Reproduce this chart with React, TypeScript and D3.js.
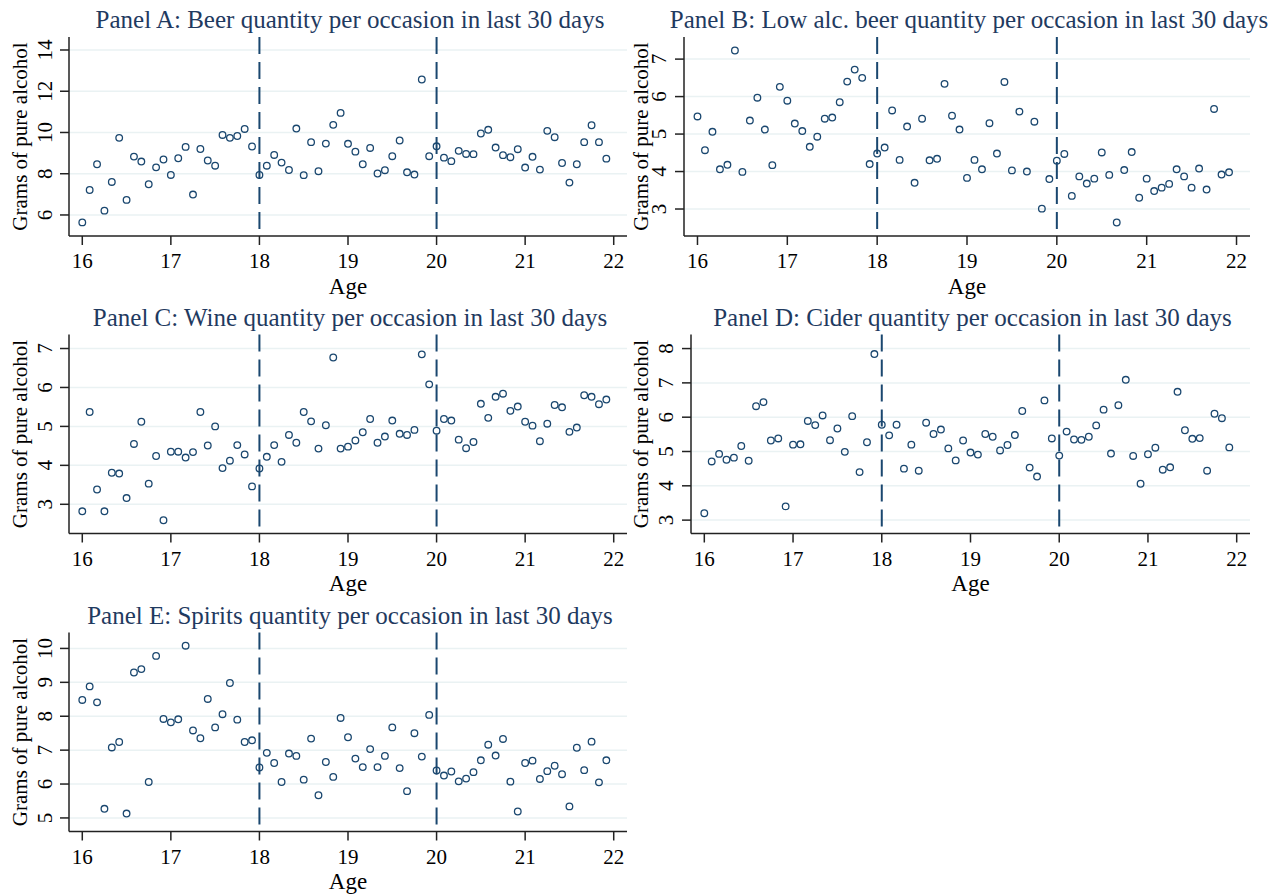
import React from "react";
import * as d3 from "d3";

// age in months, one point per month from 16y0m to 21y11m
const ageMonths = d3.range(192, 264);
const ageTicks = [16, 17, 18, 19, 20, 21, 22];
const cutoffs = [18, 20];

const beer = [
  5.64, 7.21, 8.46, 6.21, 7.6, 9.74, 6.73, 8.83, 8.59, 7.49, 8.31, 8.69,
  7.94, 8.75, 9.3, 6.99, 9.2, 8.64, 8.39, 9.88, 9.74, 9.83, 10.17, 9.32,
  7.94, 8.39, 8.91, 8.54, 8.18, 10.19, 7.93, 9.53, 8.12, 9.46, 10.37, 10.95,
  9.45, 9.07, 8.46, 9.25, 8.01, 8.17, 8.85, 9.61, 8.07, 7.96, 12.57, 8.85,
  9.33, 8.78, 8.61, 9.11, 8.96, 8.95, 9.95, 10.13, 9.27, 8.9, 8.8, 9.19,
  8.3, 8.82, 8.2, 10.08, 9.77, 8.52, 7.57, 8.46, 9.53, 10.35, 9.53, 8.73,
];

const lowAlcBeer = [
  5.47, 4.57, 5.06, 4.06, 4.18, 7.23, 3.99, 5.36, 5.97, 5.12, 4.17, 6.26,
  5.89, 5.28, 5.08, 4.66, 4.93, 5.41, 5.44, 5.85, 6.4, 6.72, 6.5, 4.2,
  4.48, 4.64, 5.63, 4.31, 5.2, 3.7, 5.41, 4.3, 4.34, 6.34, 5.49, 5.12,
  3.83, 4.31, 4.06, 5.29, 4.48, 6.39, 4.03, 5.6, 4.0, 5.33, 3.01, 3.8,
  4.29, 4.47, 3.35, 3.87, 3.68, 3.81, 4.51, 3.91, 2.64, 4.04, 4.52, 3.3,
  3.81, 3.48, 3.57, 3.67, 4.06, 3.87, 3.57, 4.08, 3.52, 5.67, 3.92, 3.98,
];

const wine = [
  2.82, 5.37, 3.38, 2.82, 3.81, 3.79, 3.16, 4.55, 5.12, 3.53, 4.24, 2.59,
  4.35, 4.35, 4.2, 4.34, 5.37, 4.51, 5.0, 3.93, 4.12, 4.52, 4.28, 3.46,
  3.92, 4.22, 4.52, 4.09, 4.78, 4.58, 5.37, 5.13, 4.43, 5.03, 6.77, 4.43,
  4.48, 4.64, 4.85, 5.19, 4.58, 4.74, 5.15, 4.81, 4.78, 4.91, 6.85, 6.08,
  4.89, 5.19, 5.15, 4.66, 4.44, 4.6, 5.58, 5.22, 5.76, 5.84, 5.4, 5.51,
  5.12, 5.02, 4.62, 5.07, 5.55, 5.49, 4.86, 4.97, 5.8, 5.76, 5.57, 5.69,
];

const cider = [
  3.2, 4.71, 4.93, 4.76, 4.82, 5.16, 4.73, 6.32, 6.44, 5.32, 5.38, 3.4,
  5.2, 5.21, 5.89, 5.77, 6.05, 5.33, 5.67, 4.99, 6.03, 4.4, 5.27, 7.84,
  5.78, 5.47, 5.78, 4.5, 5.2, 4.44, 5.84, 5.51, 5.64, 5.09, 4.74, 5.32,
  4.97, 4.91, 5.51, 5.43, 5.03, 5.19, 5.48, 6.18, 4.53, 4.27, 6.49, 5.38,
  4.88, 5.58, 5.35, 5.34, 5.43, 5.76, 6.22, 4.94, 6.35, 7.09, 4.87, 4.06,
  4.92, 5.11, 4.47, 4.54, 6.74, 5.62, 5.37, 5.39, 4.44, 6.1, 5.97, 5.12,
];

const spirits = [
  8.48, 8.88, 8.41, 5.27, 7.08, 7.24, 5.13, 9.29, 9.39, 6.06, 9.78, 7.92,
  7.82, 7.91, 10.08, 7.58, 7.35, 8.51, 7.67, 8.06, 8.98, 7.9, 7.24, 7.29,
  6.49, 6.92, 6.62, 6.06, 6.9, 6.83, 6.13, 7.34, 5.67, 6.65, 6.21, 7.95,
  7.38, 6.75, 6.5, 7.03, 6.5, 6.83, 7.67, 6.47, 5.79, 7.5, 6.81, 8.04,
  6.4, 6.25, 6.37, 6.08, 6.16, 6.35, 6.7, 7.16, 6.84, 7.33, 6.07, 5.19,
  6.62, 6.69, 6.15, 6.38, 6.54, 6.29, 5.34, 7.07, 6.41, 7.25, 6.05, 6.7,
];

const beerTicks = [6, 8, 10, 12, 14];
const lowAlcTicks = [3, 4, 5, 6, 7];
const wineTicks = [3, 4, 5, 6, 7];
const ciderTicks = [3, 4, 5, 6, 7, 8];
const spiritsTicks = [5, 6, 7, 8, 9, 10];

const NAVY = "#1a476f";
const FONT = "'Liberation Serif', 'Times New Roman', serif";

interface Box {
  left: number;
  right: number;
  top: number;
  bottom: number;
  yLabelGap: number;
  yTitleX: number;
}

interface PanelProps {
  title: string;
  values: number[];
  yTicks: number[];
  yDomain: [number, number];
  box: Box;
}

const Panel: React.FC<PanelProps> = ({ title, values, yTicks, yDomain, box }) => {
  const x = d3.scaleLinear().domain([15.85, 22.15]).range([box.left, box.right]);
  const y = d3.scaleLinear().domain(yDomain).range([box.bottom, box.top]);
  const midX = (box.left + box.right) / 2;
  const midY = (box.top + box.bottom) / 2;

  return (
    <g>
      {/* gridlines */}
      {yTicks.map((t) => (
        <line
          key={"g" + t}
          x1={box.left}
          x2={box.right}
          y1={y(t)}
          y2={y(t)}
          stroke="#eaf2f3"
          strokeWidth={1.5}
        />
      ))}

      {/* cutoff lines at 18 and 20 */}
      {cutoffs.map((c) => (
        <line
          key={"c" + c}
          x1={x(c)}
          x2={x(c)}
          y1={box.top}
          y2={box.bottom}
          stroke={NAVY}
          strokeWidth={2}
          strokeDasharray="17 8"
        />
      ))}

      {/* axes */}
      <line x1={box.left} x2={box.right} y1={box.bottom} y2={box.bottom} stroke="#222" strokeWidth={1.5} />
      <line x1={box.left} x2={box.left} y1={box.top} y2={box.bottom} stroke="#222" strokeWidth={1.5} />

      {ageTicks.map((t) => (
        <g key={"x" + t}>
          <line x1={x(t)} x2={x(t)} y1={box.bottom} y2={box.bottom + 9} stroke="#222" strokeWidth={1.5} />
          <text x={x(t)} y={box.bottom + 32} textAnchor="middle" fontSize={21} fontFamily={FONT} fill="#000">
            {t}
          </text>
        </g>
      ))}

      {yTicks.map((t) => (
        <g key={"y" + t}>
          <line x1={box.left - 9} x2={box.left} y1={y(t)} y2={y(t)} stroke="#222" strokeWidth={1.5} />
          <text
            transform={`translate(${box.left - box.yLabelGap},${y(t)}) rotate(-90)`}
            textAnchor="middle"
            fontSize={21}
            fontFamily={FONT}
            fill="#000"
          >
            {t}
          </text>
        </g>
      ))}

      <text x={midX} y={box.bottom + 57.5} textAnchor="middle" fontSize={23} fontFamily={FONT} fill="#000">
        Age
      </text>
      <text
        transform={`translate(${box.yTitleX},${midY}) rotate(-90)`}
        textAnchor="middle"
        fontSize={21}
        fontFamily={FONT}
        fill="#000"
      >
        Grams of pure alcohol
      </text>

      <text x={midX + 2} y={box.top - 9} textAnchor="middle" fontSize={25} fontFamily={FONT} fill="#1f3a60">
        {title}
      </text>

      {/* markers */}
      {values.map((v, i) => (
        <circle
          key={i}
          cx={x(ageMonths[i] / 12)}
          cy={y(v)}
          r={3.3}
          fill="none"
          stroke={NAVY}
          strokeWidth={1.3}
        />
      ))}
    </g>
  );
};

const App: React.FC = () => {
  return (
    <svg
      width={1279}
      height={895}
      style={{ position: "absolute", left: 0, top: 0, background: "#fff" }}
    >
      <Panel
        title="Panel A: Beer quantity per occasion in last 30 days"
        values={beer}
        yTicks={beerTicks}
        yDomain={[4.98, 14.63]}
        box={{ left: 69, right: 627, top: 37, bottom: 236, yLabelGap: 17, yTitleX: 27 }}
      />
      <Panel
        title="Panel B: Low alc. beer quantity per occasion in last 30 days"
        values={lowAlcBeer}
        yTicks={lowAlcTicks}
        yDomain={[2.28, 7.59]}
        box={{ left: 684, right: 1250, top: 37, bottom: 236, yLabelGap: 18, yTitleX: 648 }}
      />
      <Panel
        title="Panel C: Wine quantity per occasion in last 30 days"
        values={wine}
        yTicks={wineTicks}
        yDomain={[2.25, 7.36]}
        box={{ left: 69, right: 627, top: 334.5, bottom: 533.5, yLabelGap: 17, yTitleX: 27 }}
      />
      <Panel
        title="Panel D: Cider quantity per occasion in last 30 days"
        values={cider}
        yTicks={ciderTicks}
        yDomain={[2.61, 8.41]}
        box={{ left: 691, right: 1250, top: 334.5, bottom: 533.5, yLabelGap: 18, yTitleX: 648 }}
      />
      <Panel
        title="Panel E: Spirits quantity per occasion in last 30 days"
        values={spirits}
        yTicks={spiritsTicks}
        yDomain={[4.6, 10.47]}
        box={{ left: 69, right: 627, top: 632.5, bottom: 831.5, yLabelGap: 17, yTitleX: 27 }}
      />
    </svg>
  );
};

export default App;
